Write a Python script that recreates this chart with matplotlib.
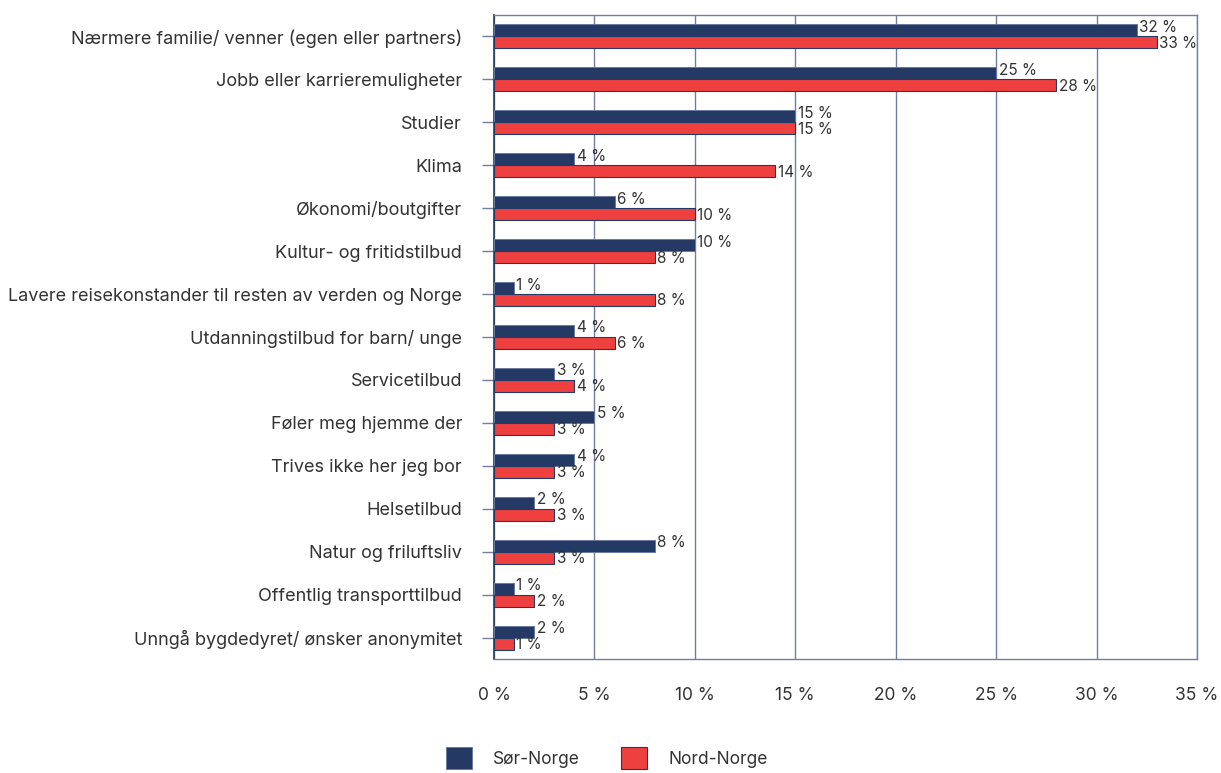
import matplotlib
matplotlib.use("Agg")
import matplotlib.pyplot as plt
import numpy as np
from matplotlib.patches import Patch

plt.rcParams['font.family'] = ['Inter', 'DejaVu Sans']

categories = [
    "Nærmere familie/ venner (egen eller partners)",
    "Jobb eller karrieremuligheter",
    "Studier",
    "Klima",
    "Økonomi/boutgifter",
    "Kultur- og fritidstilbud",
    "Lavere reisekonstander til resten av verden og Norge",
    "Utdanningstilbud for barn/ unge",
    "Servicetilbud",
    "Føler meg hjemme der",
    "Trives ikke her jeg bor",
    "Helsetilbud",
    "Natur og friluftsliv",
    "Offentlig transporttilbud",
    "Unngå bygdedyret/ ønsker anonymitet",
]
sor_norge = [32, 25, 15, 4, 6, 10, 1, 4, 3, 5, 4, 2, 8, 1, 2]
nord_norge = [33, 28, 15, 14, 10, 8, 8, 6, 4, 3, 3, 3, 3, 2, 1]
series_names = ["Sør-Norge", "Nord-Norge"]
xticks = [0, 5, 10, 15, 20, 25, 30, 35]

navy = "#243a64"
red = "#ef4040"
grid_c = "#6f7fa0"
text_c = "#333333"

fig = plt.figure(figsize=(12.21, 7.73), dpi=100)
ax = fig.add_axes([494/1221, 1-659/773, (1197-494)/1221, (659-15)/773])

y = np.arange(len(categories))
h = 0.28
ax.barh(y - h/2, sor_norge, height=h, color=navy, edgecolor="#6a7aa0", linewidth=0.7, zorder=3)
ax.barh(y + h/2, nord_norge, height=h, color=red, edgecolor=navy, linewidth=0.8, zorder=3)

for yi, v in zip(y, sor_norge):
    ax.text(v + 0.12, yi - h/2 - 0.07, f"{v} %", va="center", ha="left", fontsize=11, color=text_c, zorder=4)
for yi, v in zip(y, nord_norge):
    ax.text(v + 0.12, yi + h/2 + 0.02, f"{v} %", va="center", ha="left", fontsize=11, color=text_c, zorder=4)

ax.set_ylim(len(categories) - 0.5, -0.5)
ax.set_xlim(0, 35)
ax.set_xticks(xticks)
ax.set_xticklabels([f"{t} %" for t in xticks], fontsize=12.5, color=text_c)
ax.set_yticks(y)
ax.set_yticklabels(categories, fontsize=13, color=text_c)
ax.tick_params(axis="x", length=0, pad=20)
ax.tick_params(axis="y", length=8.6, width=1, color=grid_c, pad=14.4)
ax.xaxis.grid(True, color=grid_c, linewidth=1, zorder=0)
ax.set_axisbelow(True)
for s in ["top", "right", "bottom"]:
    ax.spines[s].set_color(grid_c)
    ax.spines[s].set_linewidth(1)
ax.spines["left"].set_color(navy)
ax.spines["left"].set_linewidth(1.2)

handles = [Patch(facecolor=navy, edgecolor="#6a7aa0", linewidth=0.7),
           Patch(facecolor=red, edgecolor=navy, linewidth=0.8)]
fig.legend(handles, series_names, loc="center", bbox_to_anchor=(0.497, 1-758/773),
           ncol=2, frameon=False, fontsize=12.5, handlelength=1.5, handleheight=1.5,
           columnspacing=2.4, handletextpad=1.2, labelcolor=text_c)

fig.savefig("out.png", dpi=100)
